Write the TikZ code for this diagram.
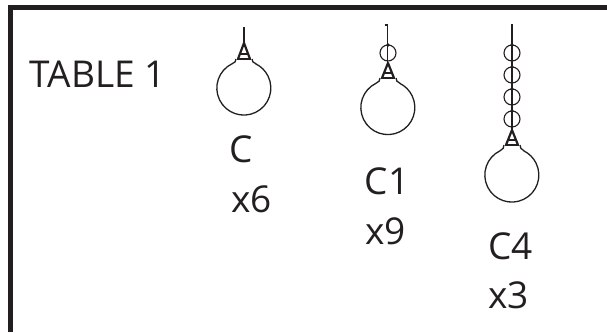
\documentclass[tikz,border=0pt]{standalone}
\usepackage{fontspec}
\setmainfont{Open Sans}
\definecolor{ink}{HTML}{231F20}
\tikzset{
  lbl/.style={inner sep=0pt,anchor=base west,text=ink,font=\fontsize{37}{37}\selectfont},
  wire/.style={draw=ink,line width=1.3pt},
  chainring/.style={draw=ink,line width=1.1pt,fill=none},
  bead/.style={fill=ink,draw=none},
  frameline/.style={draw=ink,line width=5pt}
}
\newcommand{\lamp}[4]{% x, ball y, apex y, base y
  \draw[wire,line width=2.2pt,line join=round] (#1-6,#4+1) -- (#1,#3) -- (#1+6,#4+1);
  \draw[wire] (#1-3.5,#4-4) -- (#1+3.5,#4-4);
  \draw[wire,line width=2.6pt] (#1-7,#4+1) -- (#1+7,#4+1);
  \draw[wire] (#1-8,#4+1) .. controls (#1-8,#4+3) and (#1-9,#2-25) .. (#1-12,#2-24.2);
  \draw[wire] (#1+8,#4+1) .. controls (#1+8,#4+3) and (#1+9,#2-25) .. (#1+12,#2-24.2);
  \draw[wire] (#1-12,#2-24.2) arc[start angle=244,end angle=-64,radius=27];
}
\newcommand{\chainring}[2]{%
  \draw[chainring] (#1,#2) circle[radius=8];
  \fill[bead] (#1,#2-8) circle[radius=1.8];
}
\begin{document}
\begin{tikzpicture}[x=1pt,y=-1pt]
\useasboundingbox[fill=white] (0,0) rectangle (607,332);
\draw[frameline] (10.5,332) -- (10.5,7.5) -- (607,7.5);
\node[lbl] (title) at (29.5,87) {TABLE 1};
% C
\draw[wire] (244,27) -- (244,43);
\lamp{244}{88}{43}{58}
\node[lbl] (c) at (229.5,162) {C};
\node[lbl] (cn) at (231,212) {x6};
% C1
\draw[wire] (384.5,25) -- (387.5,25) -- (387.5,63);
\chainring{388}{53}
\lamp{388}{107.5}{63}{77}
\node[lbl] (ca) at (364.5,194.5) {C1};
\node[lbl] (can) at (365,244) {x9};
% C4
\draw[wire,line width=1.8pt] (512,24) -- (512,130);
\chainring{512}{53}
\chainring{512}{75}
\chainring{512}{97}
\chainring{512}{119}
\lamp{512}{175}{130}{144}
\node[lbl] (cb) at (488,259.5) {C4};
\node[lbl] (cbn) at (488,308) {x3};
\end{tikzpicture}
\end{document}
